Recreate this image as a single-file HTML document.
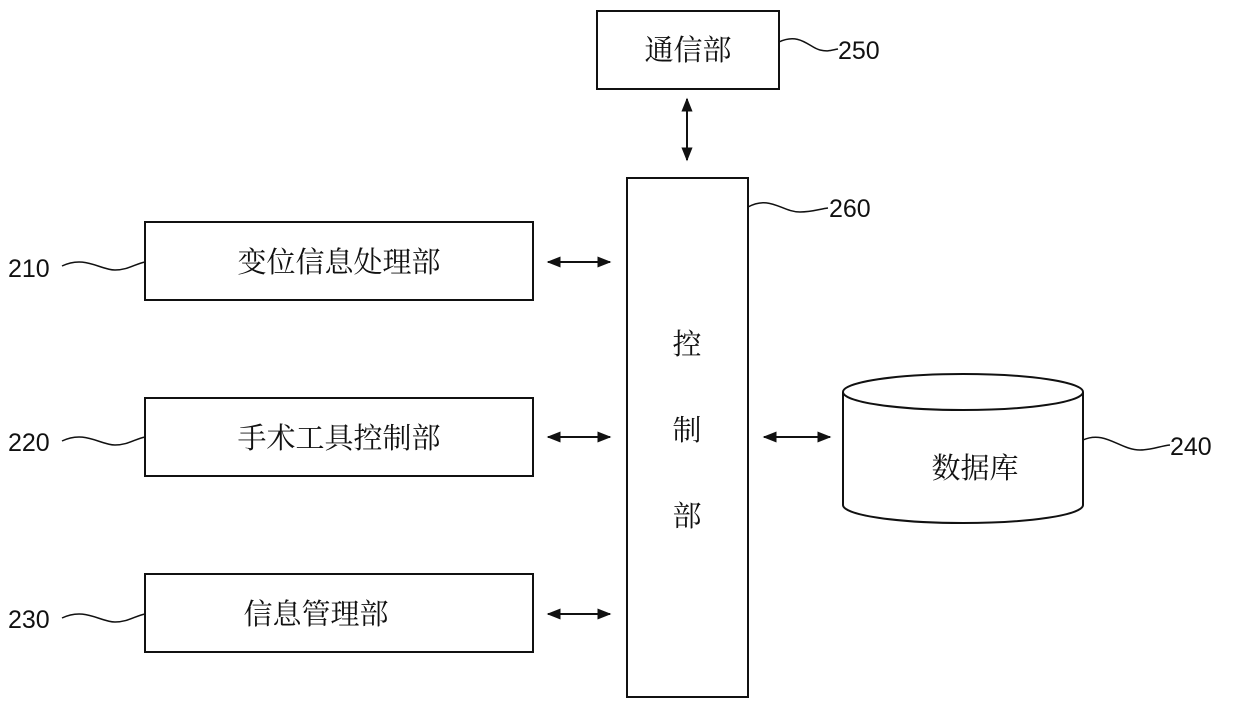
<!DOCTYPE html>
<html><head><meta charset="utf-8"><style>
html,body{margin:0;padding:0;background:#fff;}
svg{display:block;}
.t{font-family:"Liberation Serif","Noto Serif CJK SC",serif;font-size:29px;fill:#111;}
.n{font-family:"Liberation Sans","DejaVu Sans",sans-serif;font-size:25px;fill:#111;}
</style></head><body>
<svg width="1240" height="709" viewBox="0 0 1240 709" xmlns="http://www.w3.org/2000/svg">
<defs>
<marker id="a" viewBox="0 0 10 10" refX="9" refY="5" markerWidth="7" markerHeight="7" orient="auto-start-reverse">
<path d="M0,1 L10,5 L0,9 z" fill="#111"/></marker>
</defs>
<g fill="none" stroke="#111" stroke-width="2">
<rect x="597" y="11" width="182" height="78"/>
<rect x="627" y="178" width="121" height="519"/>
<rect x="145" y="222" width="388" height="78"/>
<rect x="145" y="398" width="388" height="78"/>
<rect x="145" y="574" width="388" height="78"/>
<path d="M843,392 L843,505 A120,18 0 0 0 1083,505 L1083,392"/>
<ellipse cx="963" cy="392" rx="120" ry="18"/>
<line x1="687" y1="99" x2="687" y2="160" marker-start="url(#a)" marker-end="url(#a)"/>
<line x1="548" y1="262" x2="610" y2="262" marker-start="url(#a)" marker-end="url(#a)"/>
<line x1="548" y1="437" x2="610" y2="437" marker-start="url(#a)" marker-end="url(#a)"/>
<line x1="548" y1="614" x2="610" y2="614" marker-start="url(#a)" marker-end="url(#a)"/>
<line x1="764" y1="437" x2="830" y2="437" marker-start="url(#a)" marker-end="url(#a)"/>
<path d="M779,42 C800,32 810,48 820,50 C828,52 832,50 838,49" stroke-width="1.5"/>
<path d="M748,207 C770,195 782,212 800,212 C812,212 820,209 828,208" stroke-width="1.5"/>
<path d="M62,266 C85,255 100,270 115,270 C128,270 135,264 145,262" stroke-width="1.5"/>
<path d="M62,441 C85,430 100,445 115,445 C128,445 135,439 145,437" stroke-width="1.5"/>
<path d="M62,618 C85,607 100,622 115,622 C128,622 135,616 145,614" stroke-width="1.5"/>
<path d="M1083,440 C1105,430 1120,450 1140,450 C1152,450 1160,446 1170,445" stroke-width="1.5"/>
</g>
<text class="t" x="688" y="60" text-anchor="middle">通信部</text>
<text class="t" x="339" y="272" text-anchor="middle">变位信息处理部</text>
<text class="t" x="339" y="448" text-anchor="middle">手术工具控制部</text>
<text class="t" x="316" y="624" text-anchor="middle">信息管理部</text>
<text class="t" x="975" y="478" text-anchor="middle">数据库</text>
<text class="t" x="687" y="354" text-anchor="middle">控</text>
<text class="t" x="687" y="440" text-anchor="middle">制</text>
<text class="t" x="687" y="526" text-anchor="middle">部</text>
<text class="n" x="838" y="59">250</text>
<text class="n" x="829" y="217">260</text>
<text class="n" x="8" y="277">210</text>
<text class="n" x="8" y="451">220</text>
<text class="n" x="8" y="628">230</text>
<text class="n" x="1170" y="455">240</text>
</svg>
</body></html>
